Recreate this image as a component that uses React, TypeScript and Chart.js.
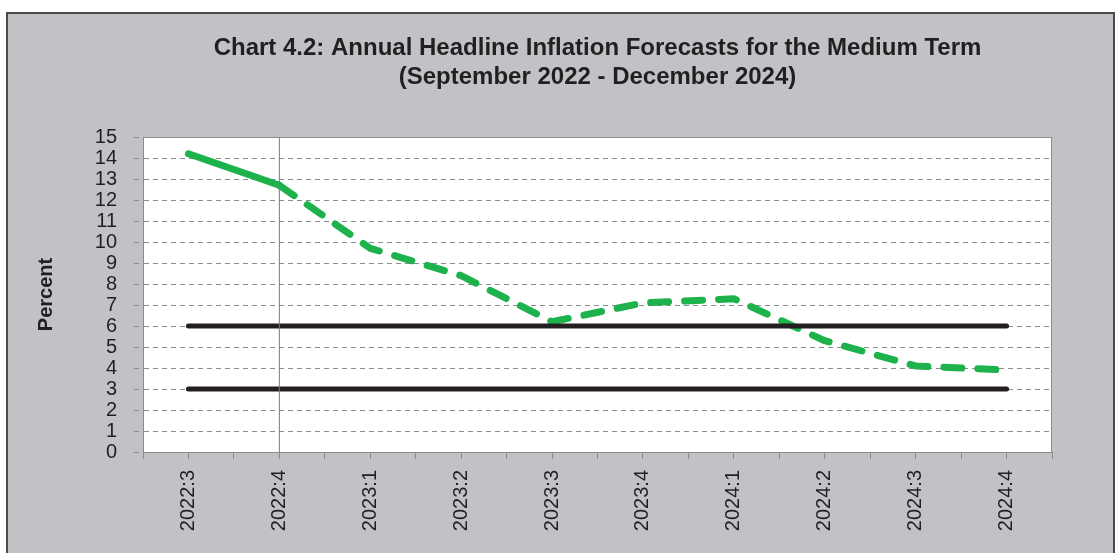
import React, { useEffect, useRef } from "react";
import { Chart, registerables } from "chart.js";

Chart.register(...registerables);

const categories = ["2022:3", "2022:4", "2023:1", "2023:2", "2023:3", "2023:4", "2024:1", "2024:2", "2024:3", "2024:4"];
const actual: (number | null)[] = [14.2, 12.7, null, null, null, null, null, null, null, null];
const forecast: (number | null)[] = [null, 12.7, 9.7, 8.4, 6.2, 7.1, 7.3, 5.3, 4.1, 3.9];
const upperBand = [6, 6, 6, 6, 6, 6, 6, 6, 6, 6];
const lowerBand = [3, 3, 3, 3, 3, 3, 3, 3, 3, 3];
const markerCategory = "2022:4";
const titleLines = [
  "Chart 4.2: Annual Headline Inflation Forecasts for the Medium Term",
  "(September 2022 - December 2024)",
];
const yAxisTitle = "Percent";

const FONT = "'Liberation Sans', Arial, Helvetica, sans-serif";
const TEXT = "#231f20";
const GRID = "#8c8c8c";
const GREEN = "#1db24c";

const toXY = (arr: (number | null)[]) =>
  arr.map((v, i) => ({ x: i, y: v }));

export default function App() {
  const ref = useRef<HTMLCanvasElement | null>(null);

  useEffect(() => {
    const canvas = ref.current;
    if (!canvas) return;
    const markerIdx = categories.indexOf(markerCategory);

    const bgPlugin = {
      id: "plotBg",
      beforeDraw(chart: any) {
        const { ctx, chartArea: a } = chart;
        ctx.save();
        ctx.fillStyle = "#ffffff";
        ctx.fillRect(a.left, a.top, a.right - a.left, a.bottom - a.top);
        ctx.restore();
      },
      afterDraw(chart: any) {
        const { ctx, chartArea: a } = chart;
        ctx.save();
        ctx.strokeStyle = GRID;
        ctx.lineWidth = 1;
        ctx.strokeRect(a.left + 0.5, a.top + 0.5, a.right - a.left - 1, a.bottom - a.top);
        ctx.fillStyle = TEXT;
        ctx.font = `bold 24px ${FONT}`;
        ctx.textAlign = "center";
        ctx.textBaseline = "alphabetic";
        const cx = (a.left + a.right) / 2;
        ctx.fillText(titleLines[0], cx, 55);
        ctx.fillText(titleLines[1], cx, 84);
        ctx.restore();
      },
    };

    const chart = new Chart(canvas, {
      type: "line",
      data: {
        datasets: [
          {
            label: "marker",
            data: [
              { x: markerIdx, y: 0 },
              { x: markerIdx, y: 15 },
            ],
            borderColor: "#7a7a7a",
            borderWidth: 1,
            pointRadius: 0,
          },
          {
            label: "Upper",
            data: toXY(upperBand),
            borderColor: TEXT,
            borderWidth: 5,
            borderCapStyle: "round",
            pointRadius: 0,
          },
          {
            label: "Lower",
            data: toXY(lowerBand),
            borderColor: TEXT,
            borderWidth: 5,
            borderCapStyle: "round",
            pointRadius: 0,
          },
          {
            label: "Actual",
            data: toXY(actual),
            borderColor: GREEN,
            borderWidth: 7,
            borderCapStyle: "round",
            borderJoinStyle: "round",
            pointRadius: 0,
            spanGaps: false,
          },
          {
            label: "Forecast",
            data: toXY(forecast),
            borderColor: GREEN,
            borderWidth: 7,
            borderDash: [18, 16],
            borderCapStyle: "round",
            borderJoinStyle: "round",
            pointRadius: 0,
          },
        ] as any,
      },
      options: {
        animation: false,
        responsive: false,
        maintainAspectRatio: false,
        layout: { padding: { left: 30, right: 63, top: 137, bottom: 0 } },
        plugins: {
          legend: { display: false },
          tooltip: { enabled: false },
          title: { display: false },
        },
        scales: {
          x: {
            type: "linear",
            min: -0.5,
            max: categories.length - 0.5,
            afterFit(scale: any) {
              scale.height = 101;
            },
            ticks: {
              stepSize: 0.5,
              autoSkip: false,
              maxRotation: 90,
              minRotation: 90,
              padding: 11,
              color: TEXT,
              font: { family: FONT, size: 20 },
              callback: (v: any) => {
                const n = Number(v);
                return Number.isInteger(n) ? categories[n] ?? "" : "";
              },
            },
            grid: {
              drawOnChartArea: false,
              drawTicks: true,
              tickLength: 7,
              color: GRID,
            },
            border: { display: true, color: GRID, width: 1 },
          },
          y: {
            min: 0,
            max: 15,
            afterFit(scale: any) {
              scale.width = 113;
            },
            ticks: {
              stepSize: 1,
              autoSkip: false,
              padding: 17,
              color: TEXT,
              font: { family: FONT, size: 20 },
            },
            grid: {
              color: GRID,
              lineWidth: 1,
              tickLength: 9,
              tickBorderDash: [5, 4],
            },
            border: { display: true, color: GRID, width: 1, dash: [5, 4] },
            title: {
              display: true,
              text: yAxisTitle,
              color: TEXT,
              font: { family: FONT, size: 20, weight: "bold" },
              padding: { top: 4, bottom: 4 },
            },
          },
        },
      } as any,
      plugins: [bgPlugin],
    });
    return () => chart.destroy();
  }, []);

  return (
    <div
      style={{
        position: "fixed",
        left: 0,
        top: 0,
        width: 1115,
        height: 553,
        overflow: "hidden",
        background: "#ffffff",
      }}
    >
      <div
        style={{
          position: "absolute",
          left: 6,
          top: 12,
          width: 1105,
          height: 600,
          border: "2px solid #4a4a4a",
          background: "#c1c2c6",
        }}
      />
      <canvas
        ref={ref}
        width={1115}
        height={553}
        style={{ position: "absolute", left: 0, top: 0, width: 1115, height: 553 }}
      />
    </div>
  );
}
